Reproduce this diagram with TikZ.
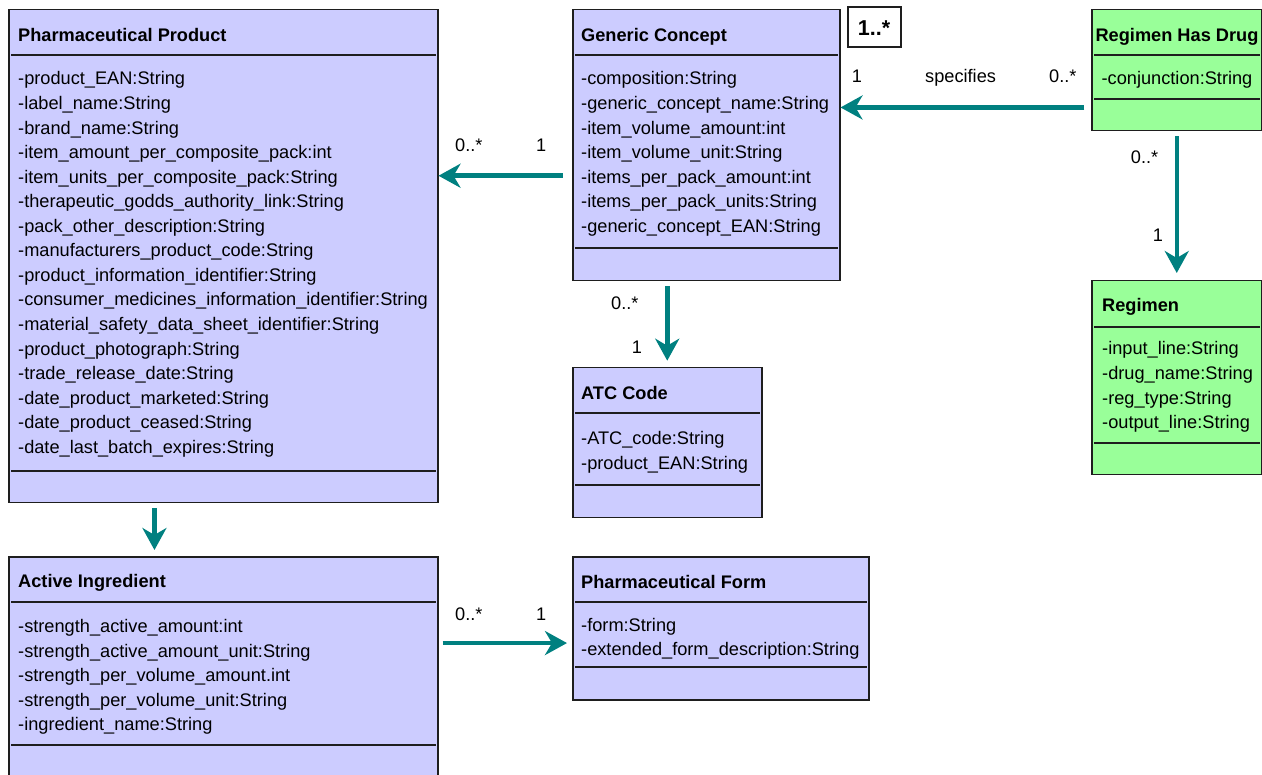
\documentclass[tikz,border=0pt]{standalone}
\usepackage{fontspec}
\setmainfont{Liberation Sans}
\usetikzlibrary{arrows.meta,calc}
\definecolor{lav}{RGB}{204,204,255}
\definecolor{grn}{RGB}{153,255,153}
\definecolor{tealc}{RGB}{0,128,128}
\definecolor{edgec}{RGB}{30,30,30}
\tikzset{
  umlbox/.style={draw=edgec, line width=1.5pt, rectangle, inner sep=0pt, anchor=north west},
  sepline/.style={draw=edgec, line width=1.3pt},
  ttl/.style={font=\fontsize{18.2}{20}\selectfont\bfseries, anchor=base west, inner sep=0pt},
  attr/.style={font=\fontsize{18.2}{20}\selectfont, anchor=base west, inner sep=0pt},
  mult/.style={font=\fontsize{18.2}{20}\selectfont, anchor=base west, inner sep=0pt},
  assoc/.style={draw=tealc, line width=4.5pt, -{Stealth[length=22pt,width=24pt,inset=7pt]}},
}
\begin{document}
\begin{tikzpicture}[x=1pt,y=-1pt]
\useasboundingbox (0,0) rectangle (1262,775);
\clip (0,0) rectangle (1262,775);

% ---------- boxes ----------
\node[umlbox, fill=lav, minimum width=429pt, minimum height=493pt] (pp) at (8,9) {};
\node[umlbox, fill=lav, minimum width=267pt, minimum height=271pt] (gc) at (572,9) {};
\node[umlbox, fill=grn, minimum width=170pt, minimum height=121pt] (rhd) at (1091,9) {};
\node[umlbox, fill=grn, minimum width=170pt, minimum height=194pt] (reg) at (1091,280) {};
\node[umlbox, fill=lav, minimum width=189pt, minimum height=150pt] (atc) at (572,367) {};
\node[umlbox, fill=lav, minimum width=429pt, minimum height=240pt] (ai) at (8,556) {};
\node[umlbox, fill=lav, minimum width=296pt, minimum height=143pt] (pf) at (572,556) {};
\node[umlbox, fill=white, line width=2pt, minimum width=53pt, minimum height=40pt] (mbox) at (847,6) {};

% ---------- separators ----------
\draw[sepline] (11,55) -- (436,55);
\draw[sepline] (11,471) -- (436,471);
\draw[sepline] (575,55) -- (838,55);
\draw[sepline] (575,248) -- (838,248);
\draw[sepline] (1094,55) -- (1260,55);
\draw[sepline] (1094,99) -- (1260,99);
\draw[sepline] (1094,327) -- (1260,327);
\draw[sepline] (1094,443) -- (1260,443);
\draw[sepline] (575,413) -- (760,413);
\draw[sepline] (575,485) -- (760,485);
\draw[sepline] (11,602) -- (436,602);
\draw[sepline] (11,745) -- (436,745);
\draw[sepline] (575,602) -- (867,602);
\draw[sepline] (575,667) -- (867,667);

% ---------- titles ----------
\node[ttl] (ppt) at (18,42) {Pharmaceutical Product};
\node[ttl] (gct) at (581,42) {Generic Concept};
\node[ttl, anchor=base] (rhdt) at (1177,42) {Regimen Has Drug};
\node[ttl] (regt) at (1102,312) {Regimen};
\node[ttl] (atct) at (581,400) {ATC Code};
\node[ttl] (ait) at (18,587) {Active Ingredient};
\node[ttl] (pft) at (581,588.5) {Pharmaceutical Form};
\node[ttl, anchor=base, font=\fontsize{21.5}{24}\selectfont\bfseries] (mt) at (874,36) {1..*};

% ---------- attributes ----------
\foreach \t [count=\i from 0] in {
  -product\_EAN:String,
  -label\_name:String,
  -brand\_name:String,
  -item\_amount\_per\_composite\_pack:int,
  -item\_units\_per\_composite\_pack:String,
  -therapeutic\_godds\_authority\_link:String,
  -pack\_other\_description:String,
  -manufacturers\_product\_code:String,
  -product\_information\_identifier:String,
  -consumer\_medicines\_information\_identifier:String,
  -material\_safety\_data\_sheet\_identifier:String,
  -product\_photograph:String,
  -trade\_release\_date:String,
  -date\_product\_marketed:String,
  -date\_product\_ceased:String,
  -date\_last\_batch\_expires:String}
  \node[attr] (ppa\i) at (18,{85+24.55*\i}) {\t};

\foreach \t [count=\i from 0] in {
  -composition:String,
  -generic\_concept\_name:String,
  -item\_volume\_amount:int,
  -item\_volume\_unit:String,
  -items\_per\_pack\_amount:int,
  -items\_per\_pack\_units:String,
  -generic\_concept\_EAN:String}
  \node[attr] (gca\i) at (581,{85+24.55*\i}) {\t};

\node[attr, anchor=base] (rhda0) at (1177,85) {-conjunction:String};

\foreach \t [count=\i from 0] in {
  -input\_line:String,
  -drug\_name:String,
  -reg\_type:String,
  -output\_line:String}
  \node[attr] (rega\i) at (1102,{355+24.55*\i}) {\t};

\node[attr] (atca0) at (581,445) {-ATC\_code:String};
\node[attr] (atca1) at (581,470) {-product\_EAN:String};

\foreach \t [count=\i from 0] in {
  -strength\_active\_amount:int,
  -strength\_active\_amount\_unit:String,
  -strength\_per\_volume\_amount.int,
  -strength\_per\_volume\_unit:String,
  -ingredient\_name:String}
  \node[attr] (aia\i) at (18,{632.5+24.55*\i}) {\t};

\node[attr] (pfa0) at (581,631) {-form:String};
\node[attr] (pfa1) at (581,655.5) {-extended\_form\_description:String};

% ---------- connectors ----------
\coordinate (gcW) at ([yshift=-30.5pt]gc.west);
\draw[assoc, shorten <=9.3pt] (gcW) -- (gcW -| pp.east);

\coordinate (rhdW) at ([yshift=-37.2pt]rhd.west);
\draw[assoc, shorten <=6.7pt] (rhdW) -- (rhdW -| gc.east);

\draw[assoc, shorten <=5pt, shorten >=7pt] (rhd.south) -- (reg.north);

\draw[assoc, shorten <=5pt, shorten >=6.3pt] (atc.north |- gc.south) -- (atc.north);

\coordinate (ppS) at ([xshift=-68.8pt]pp.south);
\draw[assoc, shorten <=4.7pt, shorten >=6pt] (ppS) -- (ppS |- ai.north);

\coordinate (pfW) at ([yshift=-14.8pt]pf.west);
\draw[assoc, shorten <=4pt, shorten >=5pt] (pfW -| ai.east) -- (pfW);

% ---------- multiplicities / labels ----------
\node[mult] (m1) at (455,152) {0..*};
\node[mult] (m2) at (536,152) {1};
\node[mult] (m3) at (851.7,82.7) {1};
\node[mult] (m4) at (925,82.7) {specifies};
\node[mult] (m5) at (1049,82.7) {0..*};
\node[mult] (m6) at (1130.7,163.3) {0..*};
\node[mult] (m7) at (1152.7,241.7) {1};
\node[mult] (m8) at (611,309.3) {0..*};
\node[mult] (m9) at (631.7,353.3) {1};
\node[mult] (m10) at (455,620) {0..*};
\node[mult] (m11) at (536,620) {1};
\end{tikzpicture}
\end{document}
